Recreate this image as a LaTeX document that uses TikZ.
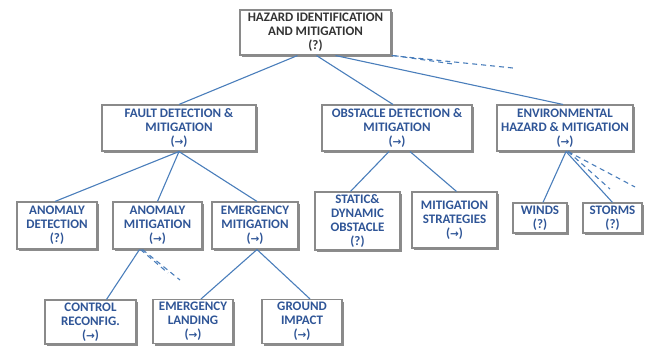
\documentclass[tikz,border=0pt]{standalone}
\usepackage{fontspec}
\setmainfont{Carlito}
\newfontfamily\arrfont{DejaVu Sans}
\usetikzlibrary{shadows}
\definecolor{txtblue}{HTML}{2F5597}
\definecolor{linkblue}{HTML}{4A7EBB}
\definecolor{boxgray}{HTML}{8A8A8A}
\definecolor{toptext}{HTML}{333333}
\newcommand{\ra}{{\arrfont\bfseries\fontsize{10.5}{12}\selectfont →}}
\tikzset{
  box/.style={draw=boxgray, line width=1.1pt, fill=white, align=center,
    inner sep=1pt, text=txtblue,
    font=\bfseries\fontsize{13}{13.8}\selectfont,
    drop shadow={shadow xshift=2pt, shadow yshift=-2pt, fill=black!45, opacity=1}},
  link/.style={draw=linkblue, line width=1.1pt},
  dlink/.style={draw=linkblue, line width=1.1pt, dash pattern=on 5pt off 4pt}
}
\begin{document}
\begin{tikzpicture}[x=1pt, y=-1pt]
\useasboundingbox (0,0) rectangle (647,345);

% level 0
\node[box, text=toptext, minimum width=151pt, minimum height=45pt] (top) at (315.5,32.5)
  {HAZARD IDENTIFICATION\\AND MITIGATION\\(?)};

% level 1
\node[box, minimum width=154pt, minimum height=46pt] (fault) at (179,128)
  {FAULT DETECTION \&\\MITIGATION\\(\ra)};
\node[box, minimum width=150pt, minimum height=46pt] (obst) at (397,128)
  {OBSTACLE DETECTION \&\\MITIGATION\\(\ra)};
\node[box, minimum width=136pt, minimum height=46pt] (env) at (565,128)
  {ENVIRONMENTAL\\HAZARD \& MITIGATION\\(\ra)};

% level 2
\node[box, minimum width=80pt, minimum height=47pt] (anomdet) at (57,225.5)
  {ANOMALY\\DETECTION\\(?)};
\node[box, minimum width=89pt, minimum height=47pt] (anommit) at (157.5,225.5)
  {ANOMALY\\MITIGATION\\(\ra)};
\node[box, minimum width=86pt, minimum height=47pt] (emermit) at (255,225.5)
  {EMERGENCY\\MITIGATION\\(\ra)};
\node[box, minimum width=85pt, minimum height=58pt] (static) at (357.5,221)
  {STATIC\&\\DYNAMIC\\OBSTACLE\\(?)};
\node[box, minimum width=85pt, minimum height=56pt] (mitstrat) at (454.5,220)
  {MITIGATION\\STRATEGIES\\(\ra)};
\node[box, minimum width=54pt, minimum height=30pt] (winds) at (540,218)
  {WINDS\\(?)};
\node[box, minimum width=59pt, minimum height=30pt] (storms) at (612.5,218)
  {STORMS\\(?)};

% level 3
\node[box, minimum width=91pt, minimum height=44pt] (ctrl) at (90.5,322)
  {CONTROL\\RECONFIG.\\(\ra)};
\node[box, minimum width=80pt, minimum height=44pt] (emland) at (193,321.5)
  {EMERGENCY\\LANDING\\(\ra)};
\node[box, minimum width=80pt, minimum height=44pt] (ground) at (302,321.5)
  {GROUND\\IMPACT\\(\ra)};

% open branches
\coordinate (topA) at (513,68);
\coordinate (topB) at (453,64);
\coordinate (envA) at (635,187);
\coordinate (envB) at (610,189);
\coordinate (amA) at (180,280);
\coordinate (amB) at (168,273);

% connectors
\draw[link] ([xshift=-18pt]top.south) -- (fault.north);
\draw[link] ([xshift=1pt]top.south) -- ([xshift=-4pt]obst.north);
\draw[link] ([xshift=20pt]top.south) -- ([xshift=-2pt]env.north);
\draw[dlink] (top.south east) -- (topA);
\draw[dlink] ([xshift=2pt]top.south east) -- (topB);

\draw[link] (fault.south) -- ([xshift=-2pt]anomdet.north);
\draw[link] (fault.south) -- (anommit.north);
\draw[link] (fault.south) -- ([xshift=2pt]emermit.north);

\draw[link] ([xshift=-8pt]obst.south) -- ([xshift=-7pt]static.north);
\draw[link] ([xshift=13pt]obst.south) -- ([xshift=2pt]mitstrat.north);

\draw[link] ([xshift=1pt]env.south) -- ([xshift=3pt]winds.north);
\draw[link] ([xshift=1pt]env.south) -- (storms.north);
\draw[dlink] ([xshift=3pt]env.south) -- (envA);
\draw[dlink] ([xshift=3pt]env.south) -- (envB);

\draw[link] ([xshift=-18pt]anommit.south) -- ([xshift=16pt]ctrl.north);
\draw[dlink] ([xshift=-15pt]anommit.south) -- (amA);
\draw[dlink] ([xshift=-17pt]anommit.south) -- (amB);

\draw[link] ([xshift=2pt]emermit.south) -- ([xshift=8pt]emland.north);
\draw[link] ([xshift=2pt]emermit.south) -- ([xshift=8pt]ground.north);
\end{tikzpicture}
\end{document}
